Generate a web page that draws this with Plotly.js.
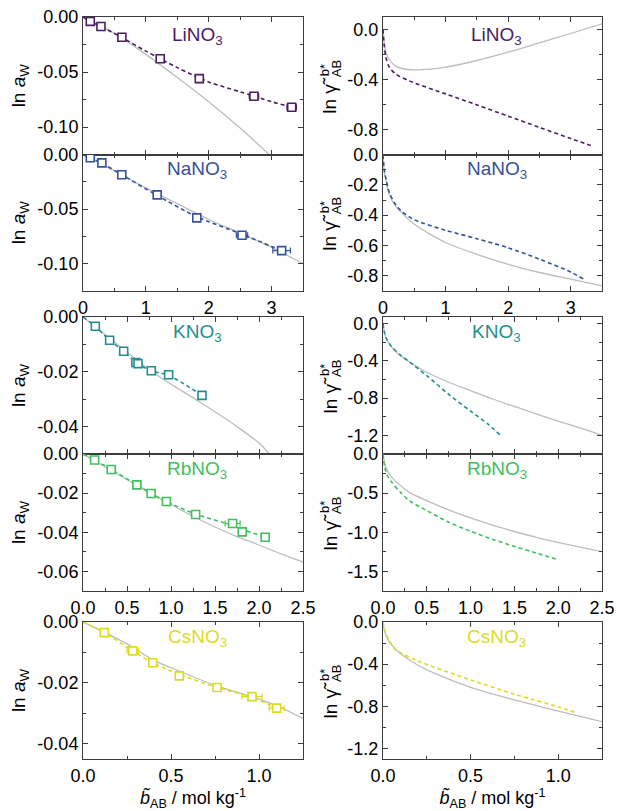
<!DOCTYPE html>
<html>
<head>
<meta charset="utf-8">
<script src="https://cdn.plot.ly/plotly-3.0.1.min.js"></script>
<style>html,body{margin:0;padding:0;background:#fff;}#chart{width:617px;height:811px;}</style>
</head>
<body>
<div id="chart"></div>
<script>
// ---------- DATA ----------
const saltNames = ["LiNO<sub>3</sub>", "NaNO<sub>3</sub>", "KNO<sub>3</sub>", "RbNO<sub>3</sub>", "CsNO<sub>3</sub>"];
const saltColors = ["#4a1d62", "#34519b", "#1f8f8f", "#3fbf5e", "#dcdc1e"];

// LiNO3
const liB = [0.116, 0.286, 0.619, 1.228, 1.85, 2.72, 3.32];
const liLnAw = [-0.004, -0.0086, -0.0184, -0.038, -0.056, -0.072, -0.082];
const liErr = [null, null, null, null, null, 0.075, 0.075];
const liFitB = [0, 0.12, 0.3, 0.6, 1.0, 1.5, 2.0, 2.5, 3.0, 3.32];
const liFitLnAw = [0, -0.004, -0.009, -0.018, -0.031, -0.046, -0.059, -0.068, -0.077, -0.082];
const liRefB = [0, 0.3, 0.6, 1.0, 1.5, 2.0, 2.5, 3.0];
const liRefLnAw = [0, -0.0085, -0.0185, -0.034, -0.055, -0.077, -0.101, -0.127];
const liGamRefB = [0, 0.02, 0.05, 0.1, 0.2, 0.3, 0.5, 0.75, 1.0, 1.5, 2.0, 2.5, 3.0, 3.5];
const liGamRef = [0, -0.107, -0.187, -0.24, -0.293, -0.312, -0.323, -0.317, -0.301, -0.248, -0.181, -0.107, -0.032, 0.045];
const liGamFitB = [0, 0.02, 0.05, 0.1, 0.2, 0.43, 1.0, 1.5, 2.0, 2.5, 3.0, 3.32];
const liGamFit = [0, -0.13, -0.23, -0.30, -0.355, -0.413, -0.515, -0.603, -0.693, -0.783, -0.872, -0.928];

// NaNO3
const naB = [0.116, 0.30, 0.617, 1.18, 1.81, 2.53, 3.16];
const naLnAw = [-0.003, -0.0077, -0.0185, -0.037, -0.058, -0.074, -0.088];
const naErr = [null, null, null, null, null, 0.09, 0.14];
const naFitB = [0, 0.116, 0.3, 0.617, 1.18, 1.81, 2.53, 3.16];
const naFitLnAw = [0, -0.003, -0.008, -0.0185, -0.0375, -0.057, -0.073, -0.088];
const naRefB = [0, 0.5, 1.0, 1.5, 2.0, 2.5, 3.0, 3.5];
const naRefLnAw = [0, -0.015, -0.0305, -0.045, -0.0595, -0.072, -0.085, -0.10];
const naGamRefB = [0, 0.02, 0.05, 0.1, 0.2, 0.3, 0.5, 1.0, 1.5, 2.0, 2.5, 3.0, 3.5];
const naGamRef = [0, -0.11, -0.175, -0.263, -0.34, -0.384, -0.46, -0.58, -0.658, -0.724, -0.778, -0.822, -0.866];
const naGamFitB = [0, 0.02, 0.05, 0.1, 0.2, 0.3, 0.5, 1.0, 1.5, 2.0, 2.5, 3.0, 3.2];
const naGamFit = [0, -0.10, -0.165, -0.25, -0.33, -0.375, -0.43, -0.50, -0.555, -0.615, -0.69, -0.775, -0.82];

// KNO3
const kB = [0.14, 0.303, 0.462, 0.60, 0.625, 0.776, 0.973, 1.352];
const kLnAw = [-0.0034, -0.0085, -0.0125, -0.0166, -0.017, -0.0196, -0.0211, -0.0286];
const kErr = [null, null, null, null, null, null, null, null];
const kFitB = [0, 0.14, 0.303, 0.462, 0.61, 0.776, 0.973, 1.352];
const kFitLnAw = [0, -0.0034, -0.0085, -0.0125, -0.0168, -0.0196, -0.0213, -0.0286];
const kRefB = [0, 0.25, 0.5, 0.75, 1.0, 1.35, 1.75, 2.0, 2.12];
const kRefLnAw = [0, -0.0064, -0.0128, -0.0192, -0.0245, -0.0315, -0.040, -0.046, -0.050];
const kGamRefB = [0, 0.02, 0.05, 0.1, 0.2, 0.3, 0.5, 0.75, 1.0, 1.25, 1.5, 1.75, 2.0, 2.25, 2.5];
const kGamRef = [0, -0.114, -0.185, -0.256, -0.345, -0.41, -0.523, -0.63, -0.72, -0.81, -0.89, -0.97, -1.047, -1.12, -1.2];
const kGamFitB = [0, 0.02, 0.05, 0.1, 0.2, 0.3, 0.5, 0.75, 1.0, 1.2, 1.34];
const kGamFit = [0, -0.11, -0.18, -0.25, -0.34, -0.41, -0.56, -0.76, -0.94, -1.08, -1.2];

// RbNO3
const rbB = [0.132, 0.321, 0.612, 0.774, 0.948, 1.28, 1.70, 1.81, 2.07];
const rbLnAw = [-0.0031, -0.0079, -0.0158, -0.0202, -0.0243, -0.0309, -0.0355, -0.0398, -0.0425];
const rbErr = [null, null, null, null, null, null, 0.085, null, null];
const rbFitB = [0, 0.132, 0.321, 0.612, 0.774, 0.948, 1.28, 1.70, 1.81, 2.07];
const rbFitLnAw = [0, -0.0031, -0.0079, -0.0158, -0.0202, -0.0243, -0.0307, -0.0365, -0.0385, -0.0425];
const rbRefB = [0, 0.25, 0.5, 0.75, 1.0, 1.25, 1.5, 1.75, 2.0, 2.25, 2.5];
const rbRefLnAw = [0, -0.0065, -0.013, -0.0195, -0.0258, -0.0318, -0.0373, -0.0422, -0.0465, -0.051, -0.0552];
const rbGamRefB = [0, 0.02, 0.05, 0.1, 0.2, 0.3, 0.5, 0.75, 1.0, 1.25, 1.5, 1.75, 2.0, 2.25, 2.5];
const rbGamRef = [0, -0.128, -0.213, -0.298, -0.404, -0.49, -0.596, -0.715, -0.817, -0.91, -0.99, -1.064, -1.13, -1.19, -1.247];
const rbGamFitB = [0, 0.02, 0.05, 0.1, 0.2, 0.3, 0.5, 0.75, 1.0, 1.25, 1.5, 1.75, 2.0];
const rbGamFit = [0, -0.17, -0.277, -0.362, -0.49, -0.596, -0.723, -0.872, -0.987, -1.09, -1.18, -1.265, -1.35];

// CsNO3
const csB = [0.121, 0.283, 0.396, 0.547, 0.762, 0.96, 1.10];
const csLnAw = [-0.0035, -0.0095, -0.0134, -0.0177, -0.0215, -0.0245, -0.0283];
const csErr = [null, 0.033, null, null, null, 0.057, 0.042];
const csFitB = [0, 0.121, 0.283, 0.396, 0.547, 0.762, 0.96, 1.10];
const csFitLnAw = [0, -0.0035, -0.0095, -0.0134, -0.0172, -0.0215, -0.0247, -0.0283];
const csRefB = [0, 0.12, 0.25, 0.4, 0.55, 0.75, 1.0, 1.1, 1.25];
const csRefLnAw = [0, -0.0033, -0.0072, -0.0125, -0.0162, -0.0208, -0.0253, -0.0275, -0.0317];
const csGamRefB = [0, 0.01, 0.03, 0.05, 0.1, 0.2, 0.3, 0.5, 0.75, 1.0, 1.25];
const csGamRef = [0, -0.094, -0.172, -0.219, -0.298, -0.41, -0.49, -0.62, -0.74, -0.845, -0.945];
const csGamFitB = [0, 0.01, 0.03, 0.07, 0.2, 0.5, 0.75, 1.0, 1.1];
const csGamFit = [0, -0.08, -0.16, -0.26, -0.37, -0.549, -0.685, -0.805, -0.86];

// Tick labels
const xTicksA = [0, 1, 2, 3];            const xTextA = ["0", "1", "2", "3"];
const xTicksB = [0, 0.5, 1, 1.5, 2, 2.5]; const xTextB = ["0.0", "0.5", "1.0", "1.5", "2.0", "2.5"];
const xTicksC = [0, 0.5, 1];              const xTextC = ["0.0", "0.5", "1.0"];
const yLiL = [0, -0.05, -0.10]; const yLiLt = ["0.00", "-0.05", "-0.10"];
const yNaL = [0, -0.05, -0.10]; const yNaLt = ["0.00", "-0.05", "-0.10"];
const yKL = [0, -0.02, -0.04];  const yKLt = ["0.00", "-0.02", "-0.04"];
const yRbL = [0, -0.02, -0.04, -0.06]; const yRbLt = ["0.00", "-0.02", "-0.04", "-0.06"];
const yCsL = [0, -0.02, -0.04]; const yCsLt = ["0.00", "-0.02", "-0.04"];
const yLiR = [0, -0.4, -0.8]; const yLiRt = ["0.0", "-0.4", "-0.8"];
const yNaR = [0, -0.2, -0.4, -0.6, -0.8]; const yNaRt = ["0.0", "-0.2", "-0.4", "-0.6", "-0.8"];
const yKR = [0, -0.4, -0.8, -1.2]; const yKRt = ["0.0", "-0.4", "-0.8", "-1.2"];
const yRbR = [0, -0.5, -1.0, -1.5]; const yRbRt = ["0.0", "-0.5", "-1.0", "-1.5"];
const yCsR = [0, -0.4, -0.8, -1.2]; const yCsRt = ["0.0", "-0.4", "-0.8", "-1.2"];

// ---------- BUILD ----------
const W = 617, H = 811;
const FONT = "Liberation Sans, Arial, sans-serif";
const GRAY = "#bdbdbd";
const AXC = "#3c3c3c";

const colL = [83 / W, 303 / W], colR = [383 / W, 602 / W];
const rowPx = [[17, 154.5], [154.5, 291], [317, 454], [454, 591], [622, 759]];
function rowDom(top, bot) { return [1 - bot / H, 1 - top / H]; }
const rows = rowPx.map(r => rowDom(r[0], r[1]));

const lnAwTitle = "ln <i>a</i><sub>W</sub>";
const xTitle = "<i>b\u0303</i><sub>AB</sub> / mol kg<sup>-1</sup>";

const panels = [
  {col: 0, row: 0, xr: [0, 3.5], yr: [-0.125, 0.0], xt: xTicksA, xtt: xTextA, xm: 0.5, showX: false, yt: yLiL, ytt: yLiLt, ym: 0.025},
  {col: 0, row: 1, xr: [0, 3.5], yr: [-0.125, 0.0], xt: xTicksA, xtt: xTextA, xm: 0.5, showX: true, yt: yNaL, ytt: yNaLt, ym: 0.025},
  {col: 0, row: 2, xr: [0, 2.5], yr: [-0.05, 0.0], xt: xTicksB, xtt: xTextB, xm: 0.25, showX: false, yt: yKL, ytt: yKLt, ym: 0.01},
  {col: 0, row: 3, xr: [0, 2.5], yr: [-0.07, 0.0], xt: xTicksB, xtt: xTextB, xm: 0.25, showX: true, yt: yRbL, ytt: yRbLt, ym: 0.01},
  {col: 0, row: 4, xr: [0, 1.25], yr: [-0.045, 0.0], xt: xTicksC, xtt: xTextC, xm: 0.25, showX: true, yt: yCsL, ytt: yCsLt, ym: 0.01, xTitle: xTitle},
  {col: 1, row: 0, xr: [0, 3.5], yr: [-1.0, 0.1], xt: xTicksA, xtt: xTextA, xm: 0.5, showX: false, yt: yLiR, ytt: yLiRt, ym: 0.2},
  {col: 1, row: 1, xr: [0, 3.5], yr: [-0.9, 0.0], xt: xTicksA, xtt: xTextA, xm: 0.5, showX: true, yt: yNaR, ytt: yNaRt, ym: 0.1},
  {col: 1, row: 2, xr: [0, 2.5], yr: [-1.4, 0.07], xt: xTicksB, xtt: xTextB, xm: 0.25, showX: false, yt: yKR, ytt: yKRt, ym: 0.2},
  {col: 1, row: 3, xr: [0, 2.5], yr: [-1.75, 0.0], xt: xTicksB, xtt: xTextB, xm: 0.25, showX: true, yt: yRbR, ytt: yRbRt, ym: 0.25},
  {col: 1, row: 4, xr: [0, 1.25], yr: [-1.3, 0.0], xt: xTicksC, xtt: xTextC, xm: 0.25, showX: true, yt: yCsR, ytt: yCsRt, ym: 0.2, xTitle: xTitle}
];

const layout = {
  width: W, height: H,
  margin: {l: 0, r: 0, t: 0, b: 0},
  paper_bgcolor: "#fff", plot_bgcolor: "#fff",
  showlegend: false,
  font: {family: FONT, size: 18, color: "#000"},
  annotations: []
};

panels.forEach((p, i) => {
  const n = i + 1;
  const xk = "xaxis" + n, yk = "yaxis" + n;
  layout[xk] = {
    domain: p.col === 0 ? colL : colR,
    range: p.xr, anchor: "y" + n,
    showline: true, mirror: "allticks", linecolor: AXC, linewidth: 1,
    showgrid: false, zeroline: false,
    ticks: "inside", ticklen: 5, tickwidth: 1, tickcolor: AXC,
    tickmode: "array", tickvals: p.xt, ticktext: p.xtt,
    showticklabels: p.showX,
    tickfont: {family: FONT, size: 18, color: "#000"},
    minor: {ticks: "inside", ticklen: 3, tickwidth: 1, tickcolor: AXC, tickmode: "linear", tick0: 0, dtick: p.xm, showgrid: false},
    fixedrange: true
  };
  if (p.xTitle) layout[xk].title = {text: p.xTitle, font: {family: FONT, size: 18, color: "#000"}, standoff: 4};
  layout[yk] = {
    domain: rows[p.row],
    range: p.yr, anchor: "x" + n,
    showline: true, mirror: "allticks", linecolor: AXC, linewidth: 1,
    showgrid: false, zeroline: false,
    ticks: "inside", ticklen: 5, tickwidth: 1, tickcolor: AXC,
    tickmode: "array", tickvals: p.yt, ticktext: p.ytt,
    tickfont: {family: FONT, size: 18, color: "#000"},
    minor: {ticks: "inside", ticklen: 3, tickwidth: 1, tickcolor: AXC, tickmode: "linear", tick0: 0, dtick: p.ym, showgrid: false},
    fixedrange: true
  };
  if (p.col === 0) {
    layout[yk].title = {text: lnAwTitle, font: {family: FONT, size: 19, color: "#000"}, standoff: 6};
  } else {
    // right-column title: ln γ̃ with stacked b* over AB (built from rotated annotations)
    const cy = (rowPx[p.row][0] + rowPx[p.row][1]) / 2;
    const ann = (text, px, py, size) => layout.annotations.push({
      text: text, xref: "paper", yref: "paper", x: px / W, y: 1 - py / H,
      xanchor: "center", yanchor: "middle", textangle: -90, showarrow: false,
      font: {family: FONT, size: size, color: "#000"}
    });
    ann("ln \u03b3\u0303", 330, cy + 9, 19);
    ann("AB", 336.5, cy - 17, 13);
    ann("b*", 324.5, cy - 15, 13);
  }
  layout.annotations.push({
    text: saltNames[p.row], xref: "x" + n + " domain", yref: "y" + n + " domain",
    x: 0.52, y: p.row === 0 ? 0.86 : 0.885, xanchor: "center", yanchor: "middle", showarrow: false,
    font: {family: FONT, size: 19, color: saltColors[p.row]}
  });
});

const sets = [
  {pts: [liB, liLnAw, liErr], fit: [liFitB, liFitLnAw], ref: [liRefB, liRefLnAw], gfit: [liGamFitB, liGamFit], gref: [liGamRefB, liGamRef]},
  {pts: [naB, naLnAw, naErr], fit: [naFitB, naFitLnAw], ref: [naRefB, naRefLnAw], gfit: [naGamFitB, naGamFit], gref: [naGamRefB, naGamRef]},
  {pts: [kB, kLnAw, kErr], fit: [kFitB, kFitLnAw], ref: [kRefB, kRefLnAw], gfit: [kGamFitB, kGamFit], gref: [kGamRefB, kGamRef]},
  {pts: [rbB, rbLnAw, rbErr], fit: [rbFitB, rbFitLnAw], ref: [rbRefB, rbRefLnAw], gfit: [rbGamFitB, rbGamFit], gref: [rbGamRefB, rbGamRef]},
  {pts: [csB, csLnAw, csErr], fit: [csFitB, csFitLnAw], ref: [csRefB, csRefLnAw], gfit: [csGamFitB, csGamFit], gref: [csGamRefB, csGamRef]}
];

const traces = [];
sets.forEach((s, r) => {
  const c = saltColors[r];
  const nl = r + 1, nr = r + 6;
  traces.push({x: s.ref[0], y: s.ref[1], xaxis: "x" + nl, yaxis: "y" + nl, mode: "lines", line: {color: GRAY, width: 1.3, shape: "spline", smoothing: 0.8}, hoverinfo: "skip"});
  traces.push({x: s.fit[0], y: s.fit[1], xaxis: "x" + nl, yaxis: "y" + nl, mode: "lines", line: {color: c, width: 1.6, dash: "4px,3px", shape: "spline", smoothing: 0.8}, hoverinfo: "skip"});
  traces.push({x: s.pts[0], y: s.pts[1], xaxis: "x" + nl, yaxis: "y" + nl, mode: "markers",
    marker: {symbol: "square", size: 8, color: "#ffffff", line: {width: 1.6, color: c}},
    error_x: {type: "data", array: s.pts[2], color: c, thickness: 1.2, width: 3, visible: true}});
  traces.push({x: s.gref[0], y: s.gref[1], xaxis: "x" + nr, yaxis: "y" + nr, mode: "lines", line: {color: GRAY, width: 1.3, shape: "spline", smoothing: 0.8}, hoverinfo: "skip"});
  traces.push({x: s.gfit[0], y: s.gfit[1], xaxis: "x" + nr, yaxis: "y" + nr, mode: "lines", line: {color: c, width: 1.6, dash: "4px,3px", shape: "spline", smoothing: 0.8}, hoverinfo: "skip"});
});

Plotly.newPlot("chart", traces, layout, {displayModeBar: false, staticPlot: true});
</script>
</body>
</html>
